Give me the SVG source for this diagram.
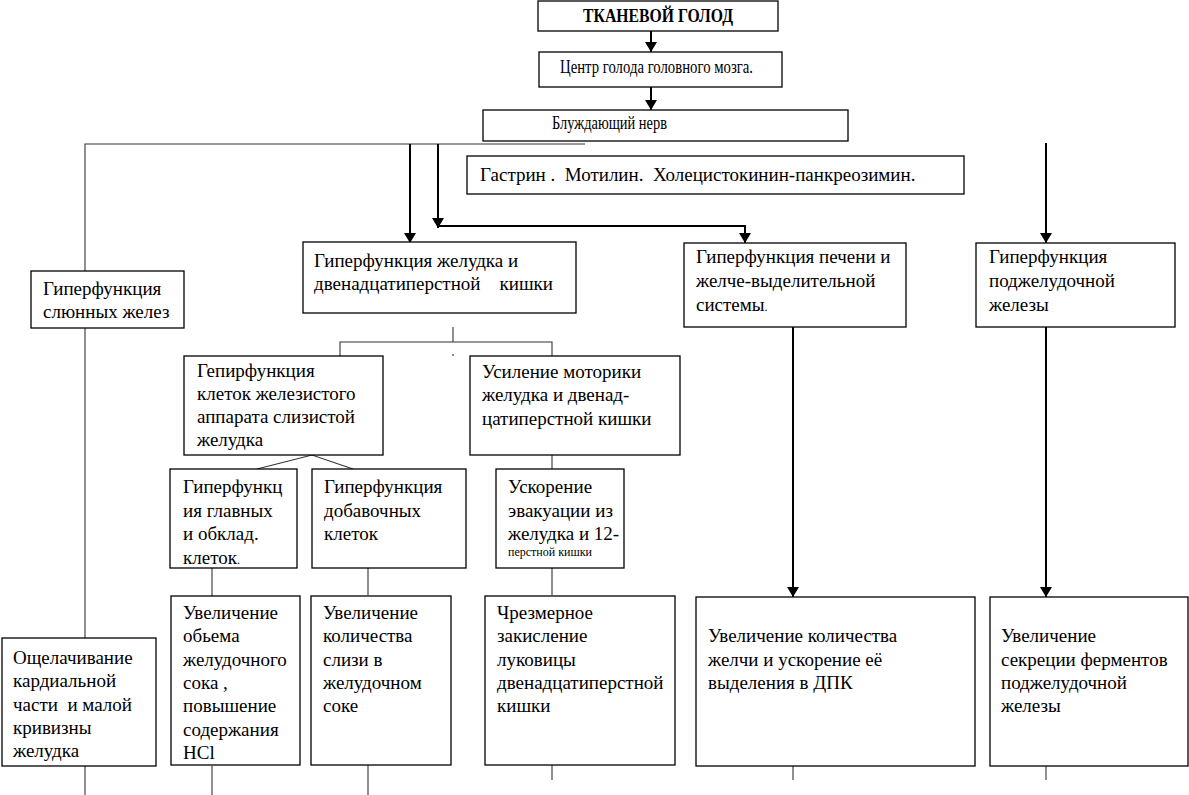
<svg xmlns="http://www.w3.org/2000/svg" width="1189" height="795" viewBox="0 0 1189 795">
<style>
.box{fill:#fff;stroke:#000;stroke-width:1.3}
.t{font-family:"Liberation Serif","Times New Roman",serif;font-size:19px;fill:#000}
.s{font-size:12px}
.ln{stroke:#333;stroke-width:1.1;fill:none}
.ar{stroke:#000;stroke-width:2;fill:none;marker-end:url(#ah)}
</style>
<defs>
<marker id="ah" viewBox="0 0 10 12" refX="10" refY="6" markerWidth="10" markerHeight="12" markerUnits="userSpaceOnUse" orient="auto">
<path d="M0,0 L10,6 L0,12 Z" fill="#000"/>
</marker>
</defs>
<rect width="1189" height="795" fill="#fff"/>
<g id="connectors">
<line class="ar" x1="651" y1="31" x2="651" y2="52"/>
<line class="ar" x1="651" y1="87" x2="651" y2="110"/>
<polyline class="ln" points="585,144 85,144 85,271"/>
<line class="ln" x1="85" y1="328" x2="85" y2="638"/>
<line class="ln" x1="85" y1="766" x2="85" y2="795"/>
<line class="ar" x1="410" y1="144" x2="410" y2="243"/>
<line class="ar" x1="438" y1="144" x2="438" y2="228"/>
<polyline class="ar" points="438,226 745,226 745,243"/>
<line class="ar" x1="1046" y1="143" x2="1046" y2="243"/>
<line class="ln" x1="453" y1="327" x2="453" y2="342"/>
<polyline class="ln" points="340,356 340,342 552,342 552,356"/>
<line class="ln" x1="453" y1="354" x2="453" y2="356"/>
<polyline class="ln" points="257,469 312,455 353,469"/>
<line class="ln" x1="552" y1="455" x2="552" y2="469"/>
<line class="ln" x1="212" y1="568" x2="212" y2="596"/>
<line class="ln" x1="368" y1="568" x2="368" y2="595"/>
<line class="ln" x1="552" y1="568" x2="552" y2="595"/>
<line class="ar" x1="793" y1="327" x2="793" y2="597"/>
<line class="ar" x1="1046" y1="327" x2="1046" y2="597"/>
<line class="ln" x1="212" y1="766" x2="212" y2="795"/>
<line class="ln" x1="368" y1="765" x2="368" y2="795"/>
<line class="ln" x1="552" y1="765" x2="552" y2="780"/>
<line class="ln" x1="793" y1="766" x2="793" y2="780"/>
<line class="ln" x1="1046" y1="766" x2="1046" y2="780" stroke="#999"/>
<line class="ln" x1="201" y1="390" x2="201" y2="418"/>
<line class="ln" x1="201" y1="478" x2="201" y2="500"/>
<line class="ln" x1="369" y1="478" x2="369" y2="500"/>
</g>
<g id="n-tkanevoy">
<rect class="box" x="538" y="1" width="240" height="30" stroke-width="2"/>
<text class="t" x="583" y="22" font-weight="bold" font-size="15" textLength="150" lengthAdjust="spacingAndGlyphs">ТКАНЕВОЙ ГОЛОД</text>
</g>
<g id="n-centr">
<rect class="box" x="539" y="52" width="243" height="35"/>
<text class="t" x="560" y="73" font-size="14" textLength="193" lengthAdjust="spacingAndGlyphs">Центр голода головного мозга.</text>
</g>
<g id="n-bluzh">
<rect class="box" x="483" y="110" width="365" height="31"/>
<text class="t" x="552" y="129" font-size="14" textLength="115" lengthAdjust="spacingAndGlyphs">Блуждающий нерв</text>
</g>
<g id="n-gastrin">
<rect class="box" x="467" y="156" width="497" height="38"/>
<text class="t" x="480" y="181" xml:space="preserve" font-size="18.5">Гастрин .  Мотилин.  Холецистокинин-панкреозимин.</text>
</g>
<g id="n-slyun">
<rect class="box" x="31" y="271" width="153" height="57"/>
<text class="t" x="43" y="295">Гиперфункция</text>
<text class="t" x="43" y="318">слюнных желез</text>
</g>
<g id="n-zheludok">
<rect class="box" x="303" y="242" width="273" height="71"/>
<text class="t" x="314" y="267">Гиперфункция желудка и</text>
<text class="t" x="314" y="290" xml:space="preserve">двенадцатиперстной    кишки</text>
</g>
<g id="n-pechen">
<rect class="box" x="684" y="243" width="222" height="84"/>
<text class="t" x="696" y="263">Гиперфункция печени и</text>
<text class="t" x="696" y="287">желче-выделительной</text>
<text class="t" x="696" y="311">системы<tspan font-size="12">.</tspan></text>
</g>
<g id="n-podzhel">
<rect class="box" x="976" y="243" width="199" height="84"/>
<text class="t" x="989" y="263">Гиперфункция</text>
<text class="t" x="989" y="287">поджелудочной</text>
<text class="t" x="989" y="311">железы</text>
</g>
<g id="n-gepir">
<rect class="box" x="184" y="356" width="199" height="99"/>
<text class="t" x="197" y="377">Гепирфункция</text>
<text class="t" x="197" y="400">клеток железистого</text>
<text class="t" x="197" y="423">аппарата слизистой</text>
<text class="t" x="197" y="446">желудка</text>
</g>
<g id="n-usilenie">
<rect class="box" x="470" y="356" width="210" height="99"/>
<text class="t" x="482" y="378">Усиление моторики</text>
<text class="t" x="482" y="401">желудка и двенад-</text>
<text class="t" x="482" y="425">цатиперстной кишки</text>
</g>
<g id="n-glavnyh">
<rect class="box" x="170" y="469" width="127" height="99"/>
<text class="t" x="183" y="493">Гиперфункц</text>
<text class="t" x="183" y="516.5">ия главных</text>
<text class="t" x="183" y="540">и обклад.</text>
<text class="t" x="183" y="563.5">клеток<tspan font-size="12">.</tspan></text>
</g>
<g id="n-dobav">
<rect class="box" x="312" y="469" width="154" height="99"/>
<text class="t" x="324" y="493">Гиперфункция</text>
<text class="t" x="324" y="516.5">добавочных</text>
<text class="t" x="324" y="540">клеток</text>
</g>
<g id="n-uskorenie">
<rect class="box" x="496" y="469" width="128" height="99"/>
<text class="t" x="508" y="493">Ускорение</text>
<text class="t" x="508" y="516.5">эвакуации из</text>
<text class="t" x="508" y="540">желудка и 12-</text>
<text class="t s" x="508" y="556">перстной кишки</text>
</g>
<g id="n-oschel">
<rect class="box" x="2" y="638" width="154" height="128"/>
<text class="t" x="13" y="664">Ощелачивание</text>
<text class="t" x="13" y="687.3">кардиальной</text>
<text class="t" x="13" y="710.6" xml:space="preserve">части  и малой</text>
<text class="t" x="13" y="733.9">кривизны</text>
<text class="t" x="13" y="757.2">желудка</text>
</g>
<g id="n-obem">
<rect class="box" x="171" y="596" width="129" height="169"/>
<text class="t" x="183" y="619">Увеличение</text>
<text class="t" x="183" y="642.3">обьема</text>
<text class="t" x="183" y="665.6">желудочного</text>
<text class="t" x="183" y="688.9">сока ,</text>
<text class="t" x="183" y="712.2">повышение</text>
<text class="t" x="183" y="735.5">содержания</text>
<text class="t" x="183" y="758.8">HCl</text>
</g>
<g id="n-slizi">
<rect class="box" x="311" y="596" width="140" height="169"/>
<text class="t" x="323" y="619">Увеличение</text>
<text class="t" x="323" y="642.3">количества</text>
<text class="t" x="323" y="665.6">слизи в</text>
<text class="t" x="323" y="688.9">желудочном</text>
<text class="t" x="323" y="712.2">соке</text>
</g>
<g id="n-chrezmer">
<rect class="box" x="485" y="596" width="190" height="169"/>
<text class="t" x="497" y="619">Чрезмерное</text>
<text class="t" x="497" y="642.3">закисление</text>
<text class="t" x="497" y="665.6">луковицы</text>
<text class="t" x="497" y="688.9">двенадцатиперстной</text>
<text class="t" x="497" y="712.2">кишки</text>
</g>
<g id="n-zhelchi">
<rect class="box" x="696" y="597" width="279" height="169"/>
<text class="t" x="708" y="642">Увеличение количества</text>
<text class="t" x="708" y="666">желчи и ускорение её</text>
<text class="t" x="708" y="689">выделения в ДПК</text>
</g>
<g id="n-sekrecii">
<rect class="box" x="990" y="597" width="198" height="169"/>
<text class="t" x="1001" y="642">Увеличение</text>
<text class="t" x="1001" y="666">секреции ферментов</text>
<text class="t" x="1001" y="689">поджелудочной</text>
<text class="t" x="1001" y="712">железы</text>
</g>
</svg>
